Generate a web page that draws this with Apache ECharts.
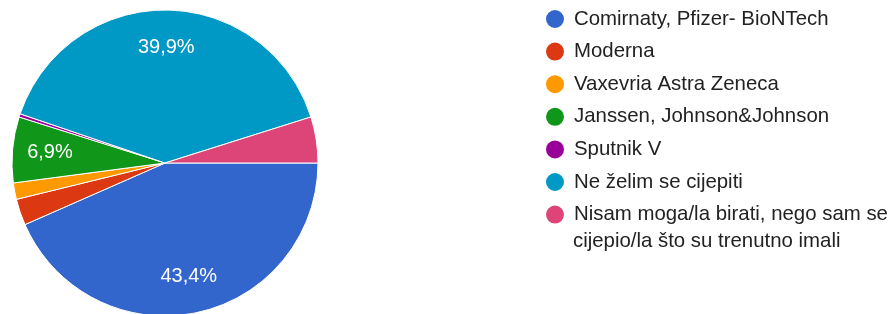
<!DOCTYPE html>
<html>
<head>
<meta charset="utf-8">
<script src="https://cdn.jsdelivr.net/npm/echarts@6/dist/echarts.min.js"></script>
<style>
html, body { margin: 0; padding: 0; background: #fff; }
#pieChart { width: 889px; height: 314px; }
</style>
</head>
<body>
<div id="pieChart"></div>
<script>
// odgovori (legenda)
var categories = [
    'Comirnaty, Pfizer- BioNTech',
    'Moderna',
    'Vaxevria Astra Zeneca',
    'Janssen, Johnson&Johnson',
    'Sputnik V',
    'Ne želim se cijepiti',
    'Nisam moga/la birati, nego sam se cijepio/la što su trenutno imali'
]
// broj odgovora po kategoriji (procijenjeno iz slike)
var counts = [125, 8, 5, 20, 1, 115, 14]
var colors = ['#3366cc', '#dc3912', '#ff9900', '#109618', '#990099', '#0099c6', '#dd4477']

var pieData = categories.map(function (name, i) {
    return { name: name, value: counts[i] }
})

var fontFamily = '"Liberation Sans", Arial, sans-serif'

var option = {
    color: colors,
    animation: false,
    legend: {
        orient: 'vertical',
        left: 544,
        top: 7,
        padding: 0,
        icon: 'circle',
        itemWidth: 20,
        itemHeight: 20,
        itemGap: 8.6,
        data: categories,
        formatter: function (name) {
            // drugi red zadnje stavke ide kao zaseban tekst (ikona ostaje uz prvi red)
            if (name === categories[6]) return 'Nisam moga/la birati, nego sam se'
            return name
        },
        textStyle: {
            color: '#222',
            fontSize: 20.4,
            fontFamily: fontFamily,
            lineHeight: 24,
            padding: [0, 0, 0, 4]
        }
    },
    graphic: [{
        type: 'text',
        left: 573,
        top: 231,
        style: {
            text: 'cijepio/la što su trenutno imali',
            fill: '#222',
            fontSize: 20.4,
            fontFamily: fontFamily
        }
    }],
    series: [
        {
            name: 'cjepivo',
            type: 'pie',
            center: [165, 163],
            radius: [0, 153],
            startAngle: 0,
            clockwise: true,
            avoidLabelOverlap: false,
            itemStyle: {
                borderColor: '#fff',
                borderWidth: 1
            },
            label: { show: false },
            labelLine: { show: false },
            data: pieData
        },
        {
            // prozirna kopija samo za postotke (da budu dalje od sredista)
            name: 'postotak',
            type: 'pie',
            silent: true,
            center: [165, 163],
            radius: [72, 153],
            startAngle: 0,
            clockwise: true,
            avoidLabelOverlap: false,
            itemStyle: { color: 'rgba(0,0,0,0)', borderWidth: 0 },
            emphasis: { disabled: true },
            label: {
                show: true,
                position: 'inside',
                color: '#fff',
                fontSize: 20,
                fontFamily: fontFamily,
                formatter: function (p) {
                    if (p.percent < 5) return ''
                    return p.percent.toFixed(1).replace('.', ',') + '%'
                }
            },
            labelLine: { show: false },
            data: pieData
        }
    ]
}

var myChart = echarts.init(document.getElementById('pieChart'))
myChart.setOption(option)
window.addEventListener('resize', function () {
    myChart.resize()
})
</script>
</body>
</html>
